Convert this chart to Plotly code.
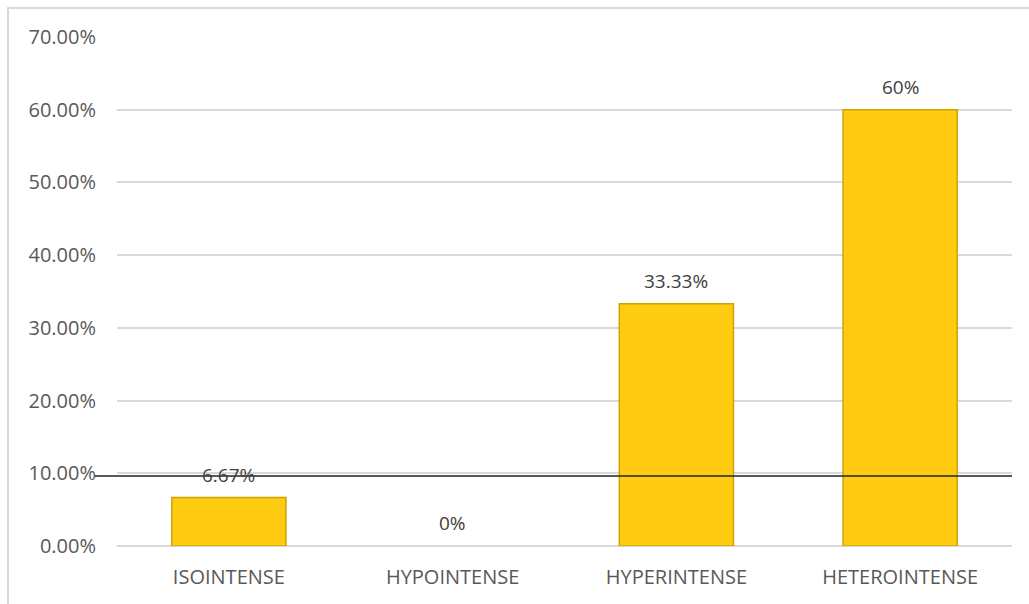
import plotly.graph_objects as go

categories = ["ISOINTENSE", "HYPOINTENSE", "HYPERINTENSE", "HETEROINTENSE"]
values = [0.0667, 0.0, 0.3333, 0.60]
value_labels = ["6.67%", "0%", "33.33%", "60%"]
ref_line_value = 0.0963

FONT = "Open Sans"
W, H = 1029, 604
L, R, T, B = 117, 17, 37, 58
pw, ph = W - L - R, H - T - B

fig = go.Figure()
fig.add_trace(go.Bar(
    x=categories, y=values,
    marker=dict(color="#FFCC12",
                line=dict(color="#CFA300", width=[1.5 if v > 0 else 0 for v in values])),
    width=0.51,
    hoverinfo="skip",
))

for c, v, t in zip(categories, values, value_labels):
    fig.add_annotation(x=c, y=v, text=t, showarrow=False, yanchor="bottom",
                       yshift=8, font=dict(family=FONT, size=19, color="#404040"))

# black horizontal reference line
fig.add_shape(type="line", xref="paper", yref="y",
              x0=(95 - L) / pw, x1=1.0, y0=ref_line_value, y1=ref_line_value,
              line=dict(color="#222222", width=1.5))

# chart border
fig.add_shape(type="rect", xref="paper", yref="paper",
              x0=(8 - L) / pw, x1=1.2, y0=-0.3, y1=1 + (T - 8) / ph,
              line=dict(color="#D9D9D9", width=2), layer="below")

fig.update_layout(
    width=W, height=H,
    margin=dict(l=L, r=R, t=T, b=B),
    paper_bgcolor="white", plot_bgcolor="white",
    showlegend=False,
    font=dict(family=FONT, size=19, color="#595959"),
    xaxis=dict(showgrid=False, showline=False, ticks="", ticklabelstandoff=17,
               tickfont=dict(family=FONT, size=20, color="#595959")),
    yaxis=dict(range=[0, 0.7], dtick=0.1, tickformat=".2%",
               showgrid=True, gridcolor="#D9D9D9", gridwidth=1.5,
               zeroline=True, zerolinecolor="#D9D9D9", zerolinewidth=1.5,
               showline=False, ticks="", ticklabelstandoff=20,
               tickfont=dict(family=FONT, size=20, color="#595959")),
)

fig.write_html("out.html")
